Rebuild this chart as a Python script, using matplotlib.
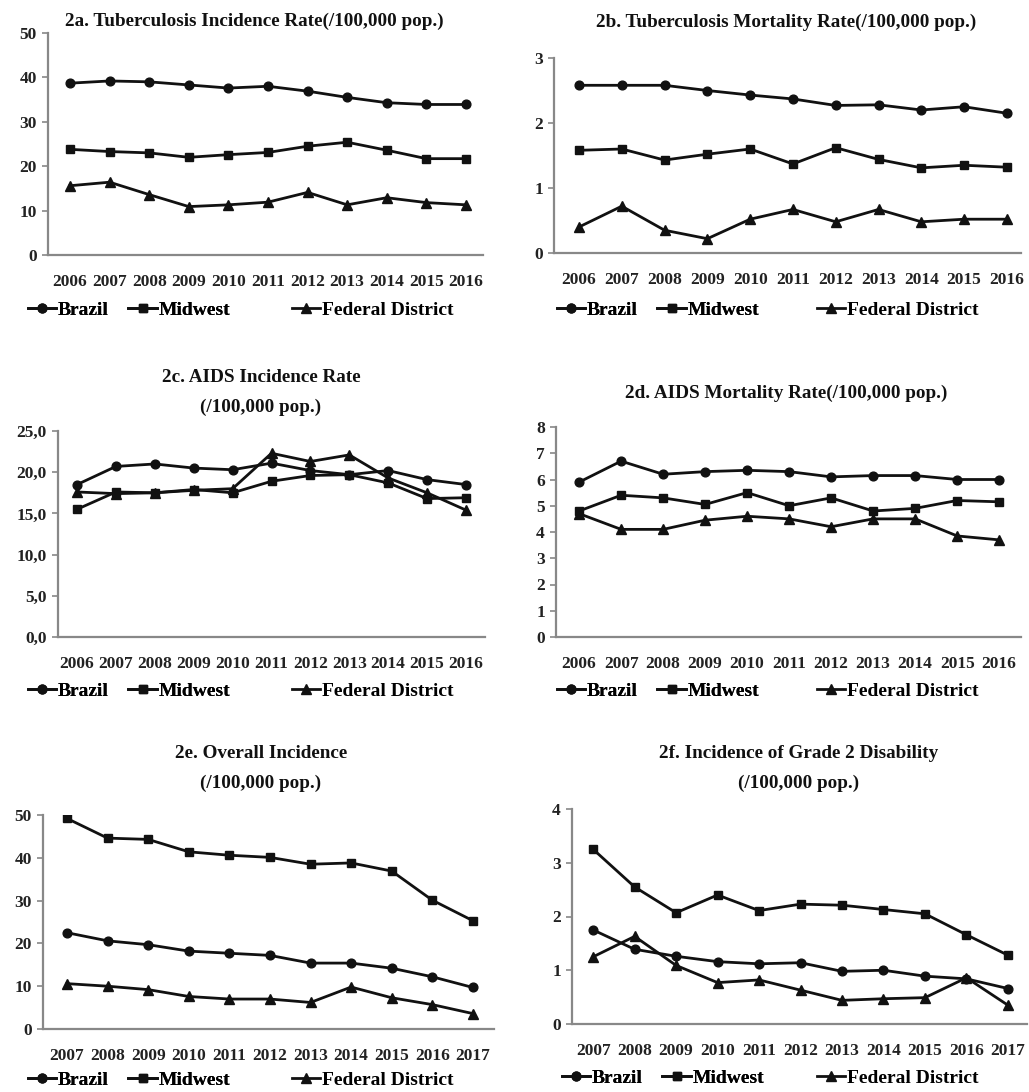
import matplotlib
matplotlib.use("Agg")
import matplotlib.pyplot as plt
from matplotlib.ticker import FuncFormatter

plt.rcParams['font.family'] = ['Liberation Serif', 'DejaVu Serif']
plt.rcParams['font.weight'] = 'bold'

W, H = 1029, 1092

years_a = [2006, 2007, 2008, 2009, 2010, 2011, 2012, 2013, 2014, 2015, 2016]
years_b = [2007, 2008, 2009, 2010, 2011, 2012, 2013, 2014, 2015, 2016, 2017]

# 2a. Tuberculosis incidence
tb_inc_brazil = [38.7, 39.2, 39.0, 38.3, 37.6, 38.0, 36.9, 35.5, 34.3, 33.9, 33.9]
tb_inc_midwest = [23.8, 23.3, 23.0, 22.0, 22.6, 23.1, 24.5, 25.4, 23.6, 21.7, 21.7]
tb_inc_fd = [15.6, 16.4, 13.6, 10.9, 11.3, 11.9, 14.1, 11.3, 12.9, 11.8, 11.3]

# 2b. Tuberculosis mortality
tb_mort_brazil = [2.58, 2.58, 2.58, 2.50, 2.43, 2.37, 2.27, 2.28, 2.20, 2.25, 2.15]
tb_mort_midwest = [1.58, 1.60, 1.43, 1.52, 1.60, 1.37, 1.62, 1.44, 1.31, 1.35, 1.32]
tb_mort_fd = [0.40, 0.72, 0.35, 0.22, 0.52, 0.67, 0.48, 0.67, 0.48, 0.52, 0.52]

# 2c. AIDS incidence
aids_inc_brazil = [18.5, 20.7, 21.0, 20.5, 20.3, 21.1, 20.2, 19.7, 20.2, 19.1, 18.5]
aids_inc_midwest = [15.5, 17.6, 17.5, 17.9, 17.5, 18.9, 19.6, 19.7, 18.7, 16.8, 16.9]
aids_inc_fd = [17.6, 17.4, 17.5, 17.8, 18.0, 22.3, 21.3, 22.1, 19.3, 17.5, 15.4]

# 2d. AIDS mortality
aids_mort_brazil = [5.9, 6.7, 6.2, 6.3, 6.35, 6.3, 6.1, 6.15, 6.15, 6.0, 6.0]
aids_mort_midwest = [4.8, 5.4, 5.3, 5.05, 5.5, 5.0, 5.3, 4.8, 4.9, 5.2, 5.15]
aids_mort_fd = [4.7, 4.1, 4.1, 4.45, 4.6, 4.5, 4.2, 4.5, 4.5, 3.85, 3.7]

# 2e. Overall incidence (leprosy)
overall_brazil = [22.5, 20.6, 19.7, 18.2, 17.7, 17.2, 15.4, 15.4, 14.2, 12.2, 9.7]
overall_midwest = [49.2, 44.6, 44.3, 41.4, 40.6, 40.1, 38.5, 38.8, 36.9, 30.1, 25.3]
overall_fd = [10.6, 10.0, 9.2, 7.6, 7.0, 7.0, 6.2, 9.8, 7.3, 5.7, 3.6]

# 2f. Grade 2 disability
g2_brazil = [1.75, 1.39, 1.26, 1.16, 1.12, 1.14, 0.98, 1.00, 0.89, 0.84, 0.66]
g2_midwest = [3.25, 2.55, 2.07, 2.40, 2.11, 2.23, 2.21, 2.13, 2.05, 1.66, 1.28]
g2_fd = [1.25, 1.63, 1.09, 0.77, 0.82, 0.63, 0.44, 0.47, 0.49, 0.86, 0.35]

labels = ["Brazil", "Midwest", "Federal District"]
markers = ["o", "s", "^"]


def px(x, y):
    return x / W, 1 - y / H


fig = plt.figure(figsize=(W / 100, H / 100), dpi=100)


def panel(rect, years, series, ymax, ystep, title, title_pos, leg_pos, xlim, comma=False):
    left, top, right, bottom = rect
    x0, y0 = px(left, bottom)
    ax = fig.add_axes([x0, y0, (right - left) / W, (bottom - top) / H])
    idx = list(range(len(years)))
    lines = []
    for vals, m in zip(series, markers):
        ms = 7 if m == "^" else 6.3
        ln, = ax.plot(idx, vals, color="#111111", lw=2.0, marker=m, ms=ms)
        lines.append(ln)
    ax.set_xlim(*xlim)
    ax.set_ylim(0, ymax)
    ax.set_xticks(idx)
    ax.set_xticklabels([str(y) for y in years], fontsize=12.5, fontweight='bold', color="#222222")
    yt = [i * ystep for i in range(int(round(ymax / ystep)) + 1)]
    ax.set_yticks(yt)
    if comma:
        ax.yaxis.set_major_formatter(FuncFormatter(lambda v, p: f"{v:.1f}".replace(".", ",")))
    else:
        ax.yaxis.set_major_formatter(FuncFormatter(lambda v, p: f"{v:g}"))
    for lab in ax.get_yticklabels():
        lab.set_fontsize(12.5)
        lab.set_fontweight('bold')
        lab.set_color("#222222")
    ax.tick_params(axis='x', length=0, pad=14)
    ax.tick_params(axis='y', length=4, width=1.2, color="#888888", pad=4)
    for s in ["top", "right"]:
        ax.spines[s].set_visible(False)
    for s in ["left", "bottom"]:
        ax.spines[s].set_color("#888888")
        ax.spines[s].set_linewidth(1.6)
    ax.set_facecolor("none")

    for i, t in enumerate(title):
        tx, ty = px(title_pos[0], title_pos[1] + i * 30)
        fig.text(tx, ty, t, ha="center", va="center", fontsize=13.8, fontweight='bold', color="#111111")

    l1x, l2x, ly = leg_pos
    leg1 = fig.legend(lines[:2], labels[:2], loc="center left", bbox_to_anchor=px(l1x, ly),
                      ncol=2, frameon=False, fontsize=14, handlelength=1.45, handletextpad=0.1,
                      columnspacing=1.0, borderpad=0, borderaxespad=0)
    fig.legend(lines[2:], labels[2:], loc="center left", bbox_to_anchor=px(l2x, ly),
               frameon=False, fontsize=14, handlelength=1.45, handletextpad=0.1,
               borderpad=0, borderaxespad=0)
    fig.add_artist(leg1)
    return ax


panel((48, 33, 483, 255), years_a, [tb_inc_brazil, tb_inc_midwest, tb_inc_fd], 50, 10,
      ["2a. Tuberculosis Incidence Rate(/100,000 pop.)"], (254, 21), (28, 292, 310), (-0.556, 10.43))
panel((554, 58, 1021, 253), years_a, [tb_mort_brazil, tb_mort_midwest, tb_mort_fd], 3, 1,
      ["2b. Tuberculosis Mortality Rate(/100,000 pop.)"], (786, 22), (557, 817, 310), (-0.584, 10.33))
panel((58, 431, 485, 637), years_a, [aids_inc_brazil, aids_inc_midwest, aids_inc_fd], 25, 5,
      ["2c. AIDS Incidence Rate", "(/100,000 pop.)"], (261, 377), (28, 292, 691), (-0.49, 10.49), comma=True)
panel((556, 427, 1021, 637), years_a, [aids_mort_brazil, aids_mort_midwest, aids_mort_fd], 8, 1,
      ["2d. AIDS Mortality Rate(/100,000 pop.)"], (786, 393), (557, 817, 691), (-0.55, 10.52))
panel((43, 815, 494, 1029), years_b, [overall_brazil, overall_midwest, overall_fd], 50, 10,
      ["2e. Overall Incidence", "(/100,000 pop.)"], (261, 753), (28, 292, 1080), (-0.59, 10.52))
panel((572, 809, 1027, 1024), years_b, [g2_brazil, g2_midwest, g2_fd], 4, 1,
      ["2f. Incidence of Grade 2 Disability", "(/100,000 pop.)"], (799, 753), (562, 817, 1078), (-0.51, 10.46))

fig.savefig("out.png", dpi=100, facecolor="white")
